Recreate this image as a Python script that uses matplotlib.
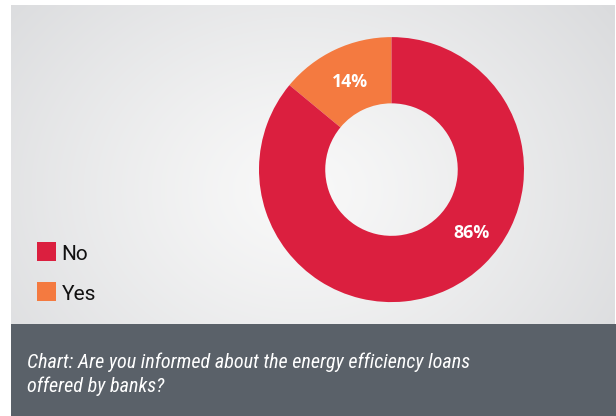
import numpy as np
import matplotlib
matplotlib.use('Agg')
import matplotlib.pyplot as plt
from matplotlib.patches import Rectangle

# ---- data ----
categories = ['Yes', 'No']
values = [14, 86]
colors = ['#f47a40', '#db1f3f']
legend_order = ['No', 'Yes']
caption_lines = ["Chart: Are you informed about the energy efficiency loans",
                 "offered by banks?"]

# label placement (polar, in pie-radius units)
label_angles = [115.2, -38.2]
label_radii = [0.73, 0.77]

W, H = 616, 416
fig = plt.figure(figsize=(W / 100, H / 100), dpi=100)
fig.patch.set_facecolor('white')
bg = fig.add_axes([0, 0, 1, 1])
bg.axis('off')

# gradient panel
px0, py0, px1, py1 = 11, 5, 615, 324
yy, xx = np.mgrid[py0:py1, px0:px1]
cx, cy = 300, 190
d = np.hypot(xx - cx, (yy - cy) * 1.25)
d = d / d.max()
c_in = np.array([0.975, 0.975, 0.975])
c_out = np.array([0.855, 0.859, 0.867])
t = np.clip(d, 0, 1) ** 1.2
img = c_in + (c_out - c_in) * t[..., None]
bg.imshow(img, extent=(px0, px1, py1, py0), aspect='auto', zorder=0,
          interpolation='bilinear')
bg.add_patch(Rectangle((px0, py1), W - px0, H - py1, color='#5a6169', zorder=1, lw=0))
bg.set_xlim(0, W)
bg.set_ylim(H, 0)

# caption
for i, line in enumerate(caption_lines):
    bg.text(27, 368 + i * 23.5, line, color='white', fontsize=14.5,
            family=['Roboto Condensed', 'Roboto'], style='italic',
            va='baseline', ha='left', zorder=2)

# legend
for i, cat in enumerate(legend_order):
    col = colors[categories.index(cat)]
    top = 242 + i * 40
    bg.add_patch(Rectangle((37, top), 19, 19, color=col, lw=0, zorder=2))
    bg.text(61.5, top + 18, cat, color='#111111', fontsize=15, family='Roboto',
            va='baseline', ha='left', zorder=2)

# donut
R = 132.5
ccx, ccy = 391.5, 169.6
ax = fig.add_axes([(ccx - R) / W, (H - ccy - R) / H, 2 * R / W, 2 * R / H])
ax.pie(values, colors=colors, startangle=90, counterclock=True, radius=1,
       wedgeprops=dict(width=0.5, linewidth=0))
ax.set_xlim(-1, 1)
ax.set_ylim(-1, 1)
ax.axis('off')
for v, a, r in zip(values, label_angles, label_radii):
    ax.text(r * np.cos(np.radians(a)), r * np.sin(np.radians(a)), f"{v}%",
            color='white', fontsize=12.8, fontweight='bold', family='Open Sans',
            ha='center', va='center')

fig.savefig('out.png', dpi=100)
